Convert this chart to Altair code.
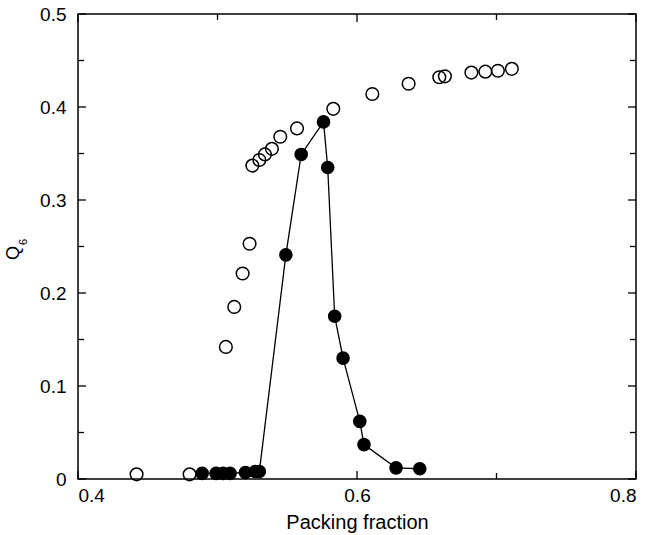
import altair as alt
import pandas as pd

# Open circles (series 1)
open_x = [0.442, 0.480, 0.506, 0.512, 0.518, 0.523, 0.525, 0.530, 0.534, 0.539,
          0.545, 0.557, 0.583, 0.611, 0.637, 0.659, 0.663, 0.682, 0.692, 0.701, 0.711]
open_y = [0.005, 0.005, 0.142, 0.185, 0.221, 0.253, 0.337, 0.343, 0.349, 0.355,
          0.368, 0.377, 0.398, 0.414, 0.425, 0.432, 0.433, 0.437, 0.438, 0.439, 0.441]

# Filled circles joined by a line (series 2)
filled_x = [0.489, 0.499, 0.504, 0.509, 0.520, 0.527, 0.530, 0.549, 0.560, 0.576,
            0.579, 0.584, 0.590, 0.602, 0.605, 0.628, 0.645]
filled_y = [0.006, 0.006, 0.006, 0.006, 0.007, 0.008, 0.008, 0.241, 0.349, 0.384,
            0.335, 0.175, 0.130, 0.062, 0.037, 0.012, 0.011]

x_major = [0.4, 0.6, 0.8]
x_minor = [0.5, 0.7]
y_major = [0.0, 0.1, 0.2, 0.3, 0.4, 0.5]
y_minor = [0.05, 0.15, 0.25, 0.35, 0.45]

W, H = 558, 465
FONT = "Liberation Sans"

xs = alt.Scale(domain=[0.4, 0.8], nice=False, zero=False)
ys = alt.Scale(domain=[0, 0.5], nice=False)

open_df = pd.DataFrame({"x": open_x, "y": open_y})
filled_df = pd.DataFrame({"x": filled_x, "y": filled_y})

x_axis = alt.Axis(values=x_major, format=".1f", tickSize=0, domain=False, grid=False,
                  labelFontSize=19, labelFont=FONT, labelColor="black", labelPadding=7,
                  title="Packing fraction", titleFontSize=20, titleFont=FONT,
                  titleFontWeight="normal", titleColor="black", titlePadding=7)
y_axis = alt.Axis(values=y_major, tickSize=0, domain=False, grid=False,
                  labelExpr="datum.value == 0 ? '0' : format(datum.value, '.1f')",
                  labelFontSize=19, labelFont=FONT, labelColor="black", labelPadding=12,
                  title=None)

base_open = alt.Chart(open_df).mark_point(
    shape="circle", filled=False, color="black", strokeWidth=1.5, size=160, opacity=1
).encode(x=alt.X("x:Q", scale=xs, axis=x_axis), y=alt.Y("y:Q", scale=ys, axis=y_axis))

line = alt.Chart(filled_df).mark_line(color="black", strokeWidth=1.3).encode(
    x=alt.X("x:Q", scale=xs), y=alt.Y("y:Q", scale=ys), order="x:Q"
)
filled = alt.Chart(filled_df).mark_circle(color="black", size=185, opacity=1).encode(
    x=alt.X("x:Q", scale=xs), y=alt.Y("y:Q", scale=ys)
)

def xticks(vals, length):
    df = pd.DataFrame({"v": vals})
    b = alt.Chart(df).mark_rule(color="black", strokeWidth=1.3).encode(
        x=alt.X("v:Q", scale=xs), y=alt.value(H), y2=alt.value(H - length))
    t = alt.Chart(df).mark_rule(color="black", strokeWidth=1.3).encode(
        x=alt.X("v:Q", scale=xs), y=alt.value(0), y2=alt.value(length))
    return [b, t]

def yticks(vals, length):
    df = pd.DataFrame({"v": vals})
    l = alt.Chart(df).mark_rule(color="black", strokeWidth=1.3).encode(
        y=alt.Y("v:Q", scale=ys), x=alt.value(0), x2=alt.value(length))
    r = alt.Chart(df).mark_rule(color="black", strokeWidth=1.3).encode(
        y=alt.Y("v:Q", scale=ys), x=alt.value(W), x2=alt.value(W - length))
    return [l, r]

q_label = alt.Chart(pd.DataFrame({"t": ["Q"]})).mark_text(
    font=FONT, fontSize=18, angle=270, align="center", baseline="middle", color="black"
).encode(text="t:N", x=alt.value(-64), y=alt.value(239))
sub_label = alt.Chart(pd.DataFrame({"t": ["6"]})).mark_text(
    font=FONT, fontSize=11, angle=270, align="center", baseline="middle", color="black"
).encode(text="t:N", x=alt.value(-54), y=alt.value(228))

layers = [base_open] + xticks(x_major, 8) + xticks(x_minor, 6) + yticks(y_major, 8) + \
    yticks(y_minor, 6) + [line, filled, q_label, sub_label]

chart = alt.layer(*layers).properties(
    width=W, height=H,
    autosize=alt.AutoSizeParams(type="none"),
    padding={"left": 78, "top": 14, "right": 13, "bottom": 56},
    background="white",
).configure_view(stroke="black", strokeWidth=1.5)

chart.save("out.html", embed_options={"renderer": "svg", "actions": False})
